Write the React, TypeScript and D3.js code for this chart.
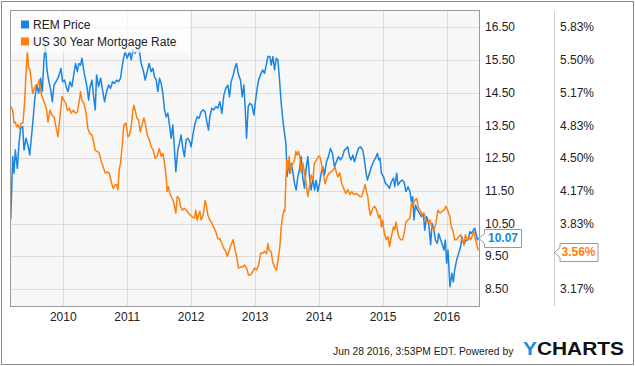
import React from 'react';
import * as d3 from 'd3';

// [decimal year, price]
const remPrice: [number, number][] = [
  [2009.178, 10.63], [2009.209, 12.55], [2009.23, 12.04], [2009.25, 12.75], [2009.282, 12.19],
  [2009.308, 12.96], [2009.334, 13.42], [2009.365, 13.47], [2009.386, 12.75], [2009.417, 13.11],
  [2009.448, 12.9], [2009.475, 12.6], [2009.5, 13.11], [2009.527, 13.67], [2009.553, 14.28],
  [2009.584, 14.74], [2009.615, 14.49], [2009.646, 14.95], [2009.672, 14.54], [2009.698, 15.51],
  [2009.719, 16.02], [2009.745, 15.2], [2009.771, 14.89], [2009.803, 14.59], [2009.829, 14.23],
  [2009.855, 14.74], [2009.886, 14.84], [2009.917, 14.95], [2009.943, 15.1], [2009.964, 15.25],
  [2009.99, 14.84], [2010.021, 14.89], [2010.047, 14.69], [2010.073, 14.54], [2010.105, 14.84],
  [2010.136, 14.69], [2010.167, 15.1], [2010.193, 15.4], [2010.219, 15.15], [2010.245, 15.4],
  [2010.271, 15.35], [2010.292, 15.56], [2010.323, 15.15], [2010.35, 14.89], [2010.375, 14.64],
  [2010.396, 14.28], [2010.417, 14.64], [2010.448, 14.89], [2010.469, 14.49], [2010.5, 13.98],
  [2010.521, 15.05], [2010.553, 14.69], [2010.584, 14.95], [2010.61, 14.64], [2010.646, 14.23],
  [2010.678, 14.54], [2010.709, 14.74], [2010.74, 14.64], [2010.771, 14.84], [2010.803, 14.79],
  [2010.834, 14.89], [2010.865, 14.84], [2010.896, 14.95], [2010.917, 15.25], [2010.948, 15.61],
  [2010.969, 15.76], [2011.0, 15.56], [2011.037, 15.76], [2011.063, 15.51], [2011.089, 15.81],
  [2011.125, 15.71], [2011.157, 15.86], [2011.188, 15.81], [2011.219, 15.4], [2011.25, 15.2],
  [2011.282, 14.89], [2011.313, 15.15], [2011.344, 15.4], [2011.375, 15.15], [2011.402, 15.25],
  [2011.428, 14.99], [2011.454, 14.89], [2011.48, 14.54], [2011.506, 14.95], [2011.532, 14.79],
  [2011.558, 14.49], [2011.584, 13.98], [2011.61, 13.77], [2011.636, 13.88], [2011.662, 13.52],
  [2011.688, 13.11], [2011.714, 13.52], [2011.74, 12.75], [2011.761, 12.09], [2011.792, 12.75],
  [2011.818, 12.96], [2011.844, 13.21], [2011.87, 12.8], [2011.896, 12.55], [2011.922, 13.06],
  [2011.948, 13.11], [2011.98, 13.01], [2012.0, 12.85], [2012.032, 13.26], [2012.063, 13.57],
  [2012.094, 13.77], [2012.125, 13.72], [2012.157, 13.92], [2012.188, 13.98], [2012.219, 13.92],
  [2012.245, 13.62], [2012.271, 13.36], [2012.292, 13.77], [2012.323, 14.03], [2012.355, 13.98],
  [2012.386, 14.08], [2012.417, 14.03], [2012.448, 14.23], [2012.48, 13.87], [2012.511, 14.43],
  [2012.542, 14.64], [2012.573, 14.74], [2012.6, 14.38], [2012.625, 14.84], [2012.657, 15.05],
  [2012.688, 15.3], [2012.709, 15.4], [2012.74, 15.05], [2012.771, 14.89], [2012.797, 14.38],
  [2012.823, 14.74], [2012.844, 14.03], [2012.865, 13.11], [2012.891, 14.08], [2012.917, 14.18],
  [2012.948, 14.13], [2012.98, 13.82], [2013.0, 14.18], [2013.027, 14.59], [2013.053, 14.89],
  [2013.084, 15.05], [2013.115, 15.2], [2013.146, 15.1], [2013.172, 15.35], [2013.198, 15.61],
  [2013.23, 15.61], [2013.25, 15.35], [2013.277, 15.61], [2013.303, 15.2], [2013.329, 15.56],
  [2013.355, 15.51], [2013.381, 14.89], [2013.407, 14.18], [2013.433, 13.67], [2013.459, 13.26],
  [2013.48, 12.96], [2013.5, 11.94], [2013.522, 12.39], [2013.542, 12.04], [2013.563, 12.34],
  [2013.584, 12.14], [2013.615, 11.73], [2013.641, 11.53], [2013.667, 11.94], [2013.693, 12.14],
  [2013.719, 12.55], [2013.745, 11.89], [2013.771, 11.58], [2013.797, 12.19], [2013.823, 12.55],
  [2013.85, 11.94], [2013.875, 11.53], [2013.902, 11.89], [2013.928, 11.53], [2013.953, 11.83],
  [2013.98, 11.48], [2014.006, 11.73], [2014.032, 12.04], [2014.058, 12.24], [2014.084, 11.99],
  [2014.115, 12.39], [2014.146, 12.55], [2014.178, 12.8], [2014.209, 12.65], [2014.24, 12.24],
  [2014.271, 12.39], [2014.302, 12.55], [2014.334, 12.45], [2014.365, 12.55], [2014.396, 12.75],
  [2014.428, 12.8], [2014.448, 12.85], [2014.475, 12.55], [2014.5, 12.45], [2014.527, 12.6],
  [2014.553, 12.39], [2014.584, 12.6], [2014.615, 12.8], [2014.646, 12.85], [2014.683, 12.75],
  [2014.709, 12.45], [2014.735, 12.04], [2014.756, 11.83], [2014.787, 12.04], [2014.819, 12.24],
  [2014.85, 12.39], [2014.881, 12.5], [2014.913, 12.65], [2014.933, 12.45], [2014.953, 12.5],
  [2014.975, 12.04], [2015.006, 11.94], [2015.038, 11.73], [2015.069, 11.68], [2015.1, 11.58],
  [2015.131, 11.78], [2015.163, 11.89], [2015.183, 11.63], [2015.214, 12.04], [2015.234, 11.68],
  [2015.266, 11.78], [2015.297, 11.83], [2015.328, 11.78], [2015.359, 11.48], [2015.391, 11.63],
  [2015.422, 11.48], [2015.444, 11.17], [2015.464, 11.32], [2015.484, 10.61], [2015.506, 11.07],
  [2015.538, 10.92], [2015.569, 10.82], [2015.6, 10.71], [2015.631, 10.82], [2015.652, 10.3],
  [2015.683, 10.71], [2015.714, 10.51], [2015.745, 9.85], [2015.766, 10.51], [2015.797, 10.3],
  [2015.819, 10.0], [2015.85, 9.9], [2015.87, 10.2], [2015.902, 10.0], [2015.922, 9.9],
  [2015.953, 9.69], [2015.975, 10.0], [2015.995, 9.29], [2016.016, 9.69], [2016.047, 8.57],
  [2016.078, 8.98], [2016.1, 8.72], [2016.12, 9.08], [2016.152, 9.39], [2016.183, 9.59],
  [2016.214, 9.8], [2016.234, 10.1], [2016.266, 9.85], [2016.297, 10.0], [2016.328, 10.0],
  [2016.359, 10.25], [2016.381, 10.2], [2016.413, 10.3], [2016.433, 10.36], [2016.453, 10.2],
  [2016.475, 10.0], [2016.49, 10.07],
];

// [decimal year, rate %]
const mortgageRate: [number, number][] = [
  [2009.178, 5.03], [2009.209, 4.99], [2009.23, 4.86], [2009.25, 4.87], [2009.271, 4.82],
  [2009.292, 4.84], [2009.318, 4.8], [2009.344, 4.86], [2009.37, 4.86], [2009.396, 5.08],
  [2009.417, 5.37], [2009.438, 5.59], [2009.459, 5.42], [2009.48, 5.4], [2009.5, 5.28],
  [2009.521, 5.16], [2009.542, 5.2], [2009.573, 5.25], [2009.605, 5.25], [2009.625, 5.3],
  [2009.646, 5.18], [2009.678, 5.11], [2009.709, 5.06], [2009.74, 4.99], [2009.761, 4.87],
  [2009.792, 4.99], [2009.823, 4.94], [2009.855, 4.92], [2009.886, 4.82], [2009.917, 4.72],
  [2009.948, 4.92], [2009.98, 5.13], [2010.011, 5.09], [2010.042, 5.06], [2010.063, 4.99],
  [2010.094, 5.01], [2010.125, 4.96], [2010.157, 4.99], [2010.188, 4.96], [2010.219, 4.97],
  [2010.25, 5.08], [2010.271, 5.18], [2010.292, 5.09], [2010.323, 5.06], [2010.355, 4.97],
  [2010.386, 4.8], [2010.417, 4.75], [2010.448, 4.74], [2010.48, 4.65], [2010.5, 4.58],
  [2010.532, 4.57], [2010.563, 4.55], [2010.594, 4.47], [2010.625, 4.41], [2010.657, 4.35],
  [2010.688, 4.36], [2010.719, 4.35], [2010.75, 4.26], [2010.782, 4.19], [2010.813, 4.23],
  [2010.834, 4.23], [2010.855, 4.18], [2010.875, 4.38], [2010.896, 4.45], [2010.922, 4.62],
  [2010.948, 4.84], [2010.98, 4.86], [2011.011, 4.72], [2011.037, 4.74], [2011.063, 4.82],
  [2011.089, 4.99], [2011.105, 5.04], [2011.125, 4.99], [2011.152, 4.91], [2011.178, 4.89],
  [2011.204, 4.77], [2011.23, 4.84], [2011.261, 4.91], [2011.282, 4.86], [2011.313, 4.74],
  [2011.344, 4.69], [2011.375, 4.62], [2011.407, 4.58], [2011.438, 4.5], [2011.469, 4.52],
  [2011.5, 4.6], [2011.532, 4.52], [2011.558, 4.55], [2011.584, 4.45], [2011.61, 4.31],
  [2011.625, 4.16], [2011.646, 4.21], [2011.667, 4.14], [2011.688, 4.11], [2011.719, 4.07],
  [2011.74, 4.01], [2011.761, 3.94], [2011.782, 4.11], [2011.813, 4.09], [2011.834, 4.01],
  [2011.865, 3.97], [2011.896, 3.99], [2011.928, 3.97], [2011.959, 3.94], [2011.99, 3.92],
  [2012.021, 3.9], [2012.052, 3.89], [2012.073, 3.97], [2012.094, 3.87], [2012.115, 3.92],
  [2012.136, 3.96], [2012.157, 3.87], [2012.188, 3.92], [2012.219, 4.07], [2012.24, 4.01],
  [2012.261, 3.92], [2012.292, 3.87], [2012.323, 3.84], [2012.355, 3.79], [2012.386, 3.75],
  [2012.417, 3.68], [2012.448, 3.68], [2012.48, 3.63], [2012.511, 3.58], [2012.542, 3.55],
  [2012.563, 3.5], [2012.594, 3.56], [2012.625, 3.62], [2012.657, 3.67], [2012.688, 3.56],
  [2012.709, 3.5], [2012.74, 3.38], [2012.771, 3.39], [2012.803, 3.39], [2012.834, 3.41],
  [2012.865, 3.38], [2012.896, 3.31], [2012.928, 3.31], [2012.959, 3.34], [2012.99, 3.38],
  [2013.021, 3.36], [2013.053, 3.41], [2013.084, 3.53], [2013.115, 3.53], [2013.146, 3.55],
  [2013.178, 3.53], [2013.198, 3.63], [2013.219, 3.56], [2013.25, 3.55], [2013.271, 3.45],
  [2013.303, 3.39], [2013.334, 3.36], [2013.365, 3.5], [2013.386, 3.6], [2013.407, 3.8],
  [2013.428, 3.9], [2013.448, 3.97], [2013.464, 3.96], [2013.48, 4.28], [2013.495, 4.48],
  [2013.511, 4.38], [2013.532, 4.52], [2013.553, 4.35], [2013.573, 4.43], [2013.594, 4.45],
  [2013.615, 4.48], [2013.636, 4.57], [2013.657, 4.53], [2013.678, 4.57], [2013.698, 4.52],
  [2013.719, 4.35], [2013.745, 4.45], [2013.771, 4.35], [2013.797, 4.24], [2013.823, 4.11],
  [2013.85, 4.21], [2013.875, 4.33], [2013.902, 4.28], [2013.928, 4.45], [2013.959, 4.48],
  [2013.99, 4.52], [2014.011, 4.52], [2014.032, 4.46], [2014.063, 4.35], [2014.094, 4.24],
  [2014.125, 4.31], [2014.157, 4.35], [2014.188, 4.36], [2014.219, 4.38], [2014.25, 4.41],
  [2014.271, 4.35], [2014.292, 4.31], [2014.323, 4.35], [2014.355, 4.24], [2014.386, 4.19],
  [2014.417, 4.14], [2014.448, 4.18], [2014.48, 4.13], [2014.511, 4.16], [2014.542, 4.13],
  [2014.573, 4.14], [2014.605, 4.13], [2014.636, 4.11], [2014.667, 4.11], [2014.698, 4.18],
  [2014.719, 4.23], [2014.74, 4.16], [2014.761, 4.11], [2014.782, 3.99], [2014.803, 3.92],
  [2014.839, 3.99], [2014.87, 4.01], [2014.902, 3.97], [2014.933, 3.89], [2014.953, 3.92],
  [2014.975, 3.8], [2014.995, 3.87], [2015.016, 3.75], [2015.047, 3.67], [2015.078, 3.7],
  [2015.1, 3.6], [2015.131, 3.7], [2015.163, 3.8], [2015.183, 3.77], [2015.203, 3.85],
  [2015.225, 3.77], [2015.245, 3.7], [2015.277, 3.67], [2015.308, 3.67], [2015.339, 3.77],
  [2015.359, 3.85], [2015.391, 3.87], [2015.422, 3.89], [2015.444, 4.04], [2015.464, 4.01],
  [2015.495, 4.07], [2015.527, 4.09], [2015.547, 4.01], [2015.578, 3.97], [2015.61, 3.92],
  [2015.641, 3.94], [2015.672, 3.87], [2015.703, 3.84], [2015.734, 3.87], [2015.766, 3.79],
  [2015.797, 3.77], [2015.828, 3.84], [2015.859, 3.97], [2015.891, 3.94], [2015.922, 3.96],
  [2015.953, 3.97], [2015.984, 4.01], [2016.016, 3.96], [2016.047, 3.9], [2016.069, 3.8],
  [2016.089, 3.77], [2016.12, 3.67], [2016.152, 3.67], [2016.183, 3.7], [2016.214, 3.72],
  [2016.234, 3.67], [2016.266, 3.62], [2016.288, 3.72], [2016.319, 3.67], [2016.35, 3.7],
  [2016.37, 3.67], [2016.402, 3.72], [2016.422, 3.75], [2016.444, 3.67], [2016.464, 3.63],
  [2016.486, 3.56],
];

const priceTicks = [8.5, 9.5, 10.5, 11.5, 12.5, 13.5, 14.5, 15.5, 16.5];
const rateTicks = [19 / 6, 3.5, 23 / 6, 25 / 6, 4.5, 29 / 6, 31 / 6, 5.5, 35 / 6];
const yearTicks = [2010, 2011, 2012, 2013, 2014, 2015, 2016];
const seriesNames = ['REM Price', 'US 30 Year Mortgage Rate'];
const seriesColors = ['#1a85e3', '#ff7f0e'];
const stamp = 'Jun 28 2016, 3:53PM EDT.  Powered by';

const W = 635;
const H = 366;
const plot = { left: 10, top: 10, right: 479, bottom: 306 };
const font = '"Liberation Sans", Arial, sans-serif';

function toDate(t: number) {
  const y = Math.floor(t);
  const a = Date.UTC(y, 0, 1);
  const b = Date.UTC(y + 1, 0, 1);
  return new Date(a + (t - y) * (b - a));
}

export default function App() {
  const x = d3
    .scaleUtc()
    .domain([toDate(2009.1667), toDate(2016.5)])
    .range([plot.left, plot.right]);

  const yPrice = d3.scaleLinear().domain([7.98, 17.035]).range([plot.bottom, plot.top]);
  // rate axis is locked to the price axis: 12.50 <-> 4.50%, one price unit = 1/3 point
  const yRate = d3
    .scaleLinear()
    .domain([4.5 + (7.98 - 12.5) / 3, 4.5 + (17.035 - 12.5) / 3])
    .range([plot.bottom, plot.top]);

  const priceLine = d3
    .line<[number, number]>()
    .x(d => x(toDate(d[0])))
    .y(d => yPrice(d[1]));
  const rateLine = d3
    .line<[number, number]>()
    .x(d => x(toDate(d[0])))
    .y(d => yRate(d[1]));

  const lastPrice = remPrice[remPrice.length - 1][1];
  const lastRate = mortgageRate[mortgageRate.length - 1][1];
  const py = yPrice(lastPrice);
  const ry = yRate(lastRate) + 1.5;

  // callout box with a small arrow on the left
  const callout = (tipX: number, cy: number, w: number) => {
    const bx = tipX + 5.5;
    return `M${tipX},${cy} L${bx},${cy - 5} L${bx},${cy - 9} L${bx + w},${cy - 9} L${bx + w},${cy + 9} L${bx},${cy + 9} L${bx},${cy + 5} Z`;
  };

  // tick labels hidden behind a callout are not drawn
  const visiblePrice = priceTicks.filter(t => Math.abs(yPrice(t) - py) > 14);
  const visibleRate = rateTicks.filter(t => Math.abs(yRate(t) - ry) > 14);

  return (
    <svg
      width={W}
      height={H}
      style={{ position: 'absolute', left: 0, top: 0, fontFamily: font }}
    >
      <rect x={0} y={0} width={W} height={H} fill="#fff" />
      <rect x={1.5} y={1.5} width={632} height={363} fill="none" stroke="#8a8a8a" strokeWidth={1} />

      <defs>
        <clipPath id="plot-clip">
          <rect x={plot.left} y={plot.top} width={plot.right - plot.left} height={plot.bottom - plot.top} />
        </clipPath>
      </defs>

      <rect
        x={plot.left}
        y={plot.top}
        width={plot.right - plot.left}
        height={plot.bottom - plot.top}
        fill="#f7f7f7"
      />

      {priceTicks.map(t => (
        <line
          key={'h' + t}
          x1={plot.left}
          x2={plot.right}
          y1={Math.round(yPrice(t)) + 0.5}
          y2={Math.round(yPrice(t)) + 0.5}
          stroke="#dcdcdc"
        />
      ))}
      {yearTicks.map(t => (
        <line
          key={'v' + t}
          x1={Math.round(x(toDate(t))) + 0.5}
          x2={Math.round(x(toDate(t))) + 0.5}
          y1={plot.top}
          y2={plot.bottom}
          stroke="#dcdcdc"
        />
      ))}

      <g clipPath="url(#plot-clip)" fill="none" strokeWidth={1.5} strokeLinejoin="round">
        <path d={priceLine(remPrice) || ''} stroke={seriesColors[0]} />
        <path d={rateLine(mortgageRate) || ''} stroke={seriesColors[1]} />
      </g>

      {/* legend */}
      <rect x={plot.left + 0.5} y={plot.top + 0.5} width={179} height={42} fill="#fff" fillOpacity={0.72} />
      {seriesNames.map((name, i) => (
        <g key={name}>
          <rect x={21} y={20.5 + i * 17} width={8} height={8} fill={seriesColors[i]} />
          <text x={33} y={28.5 + i * 17} fontSize={12} fill="#222">
            {name}
          </text>
        </g>
      ))}

      <rect
        x={plot.left + 0.5}
        y={plot.top + 0.5}
        width={plot.right - plot.left}
        height={plot.bottom - plot.top}
        fill="none"
        stroke="#9a9a9a"
      />

      {/* right axes */}
      <line x1={554.5} x2={554.5} y1={11} y2={plot.bottom} stroke="#cccccc" />
      {visiblePrice.map(t => (
        <text key={'pt' + t} x={485} y={yPrice(t) + 4} fontSize={12} fill="#222">
          {d3.format('.2f')(t)}
        </text>
      ))}
      {visibleRate.map(t => (
        <text key={'rt' + t} x={560} y={yRate(t) + 4} fontSize={12} fill="#222">
          {d3.format('.2f')(t) + '%'}
        </text>
      ))}

      {yearTicks.map(t => (
        <text
          key={'yt' + t}
          x={x(toDate(t))}
          y={320.5}
          fontSize={12}
          fill="#222"
          textAnchor="middle"
        >
          {t}
        </text>
      ))}

      {/* last value callouts */}
      <path d={callout(479, Math.round(py) + 0.5, 37)} fill="#fff" stroke="#999" />
      <text x={503} y={py + 4.5} fontSize={12} fontWeight="bold" fill={seriesColors[0]} textAnchor="middle">
        {d3.format('.2f')(lastPrice)}
      </text>
      <path d={callout(554.5, Math.round(ry) + 0.5, 38)} fill="#fff" stroke="#999" />
      <text x={578.5} y={ry + 4.5} fontSize={12} fontWeight="bold" fill={seriesColors[1]} textAnchor="middle">
        {d3.format('.2f')(lastRate) + '%'}
      </text>

      {/* footer */}
      <text x={333} y={355} fontSize={10.3} fill="#222">
        {stamp}
      </text>
      <text x={523} y={355} fontSize={18} fontWeight="bold" textLength={101} lengthAdjust="spacingAndGlyphs">
        <tspan fill="#1a8fe3">Y</tspan>
        <tspan fill="#111">CHARTS</tspan>
      </text>
    </svg>
  );
}
